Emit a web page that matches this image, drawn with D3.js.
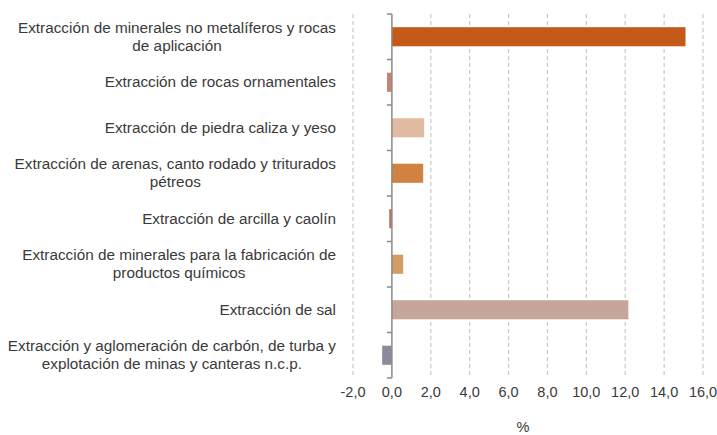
<!DOCTYPE html>
<html>
<head>
<meta charset="utf-8">
<script src="https://cdn.jsdelivr.net/npm/d3@7"></script>
<style>
  body { margin: 0; background: #fff; }
  text { font-family: "Liberation Sans", Arial, sans-serif; }
</style>
</head>
<body>
<div id="chart"></div>
<script>
// categories (top to bottom), each label split into lines
var categories = [
	["Extracción de minerales no metalíferos y rocas", "de aplicación"],
	["Extracción de rocas ornamentales"],
	["Extracción de piedra caliza y yeso"],
	["Extracción de arenas, canto rodado y triturados", "pétreos"],
	["Extracción de arcilla y caolín"],
	["Extracción de minerales para la fabricación de", "productos químicos"],
	["Extracción de sal"],
	["Extracción y aglomeración de carbón, de turba y", "explotación de minas y canteras n.c.p."]
];
var values = [15.1, -0.25, 1.66, 1.61, -0.14, 0.58, 12.16, -0.5];
var barColors = ["#c55a18", "#c48472", "#e1bca2", "#d08240", "#bf7464", "#d39c62", "#c6a69a", "#8d8a9b"];
var tickValues = [-2, 0, 2, 4, 6, 8, 10, 12, 14, 16];

var width = 717, height = 435;
var margin = {top: 14, right: 14, bottom: 57, left: 353};

var svg = d3.select("#chart")
	.append("svg")
		.attr("width", width)
		.attr("height", height);

var x = d3.scaleLinear()
	.domain([-2, 16])
	.range([margin.left, width - margin.right]);

var y = d3.scaleBand()
	.domain(d3.range(categories.length))
	.range([margin.top, height - margin.bottom])
	.paddingInner(0.58)
	.paddingOuter(0.29);

var plotTop = margin.top, plotBottom = height - margin.bottom;

// dashed vertical gridlines
svg.selectAll("line.grid")
	.data(tickValues.filter(function(d) { return d !== 0; }))
	.enter()
	.append("line")
		.attr("class", "grid")
		.attr("x1", function(d) { return x(d); })
		.attr("x2", function(d) { return x(d); })
		.attr("y1", plotTop)
		.attr("y2", plotBottom)
		.attr("stroke", "#c8c8c8")
		.attr("stroke-width", 1.2)
		.attr("stroke-dasharray", "4,3");

// bars
svg.selectAll("rect.bar")
	.data(values)
	.enter()
	.append("rect")
		.attr("x", function(d) { return x(Math.min(0, d)); })
		.attr("y", function(d, i) { return y(i); })
		.attr("width", function(d) { return Math.abs(x(d) - x(0)); })
		.attr("height", y.bandwidth())
		.attr("fill", function(d, i) { return barColors[i]; });

// zero axis with category ticks
var step = (plotBottom - plotTop) / categories.length;
svg.append("line")
	.attr("x1", x(0)).attr("x2", x(0))
	.attr("y1", plotTop).attr("y2", plotBottom)
	.attr("stroke", "#8a8a8a")
	.attr("stroke-width", 1.5);
svg.selectAll("line.ytick")
	.data(d3.range(categories.length + 1))
	.enter()
	.append("line")
		.attr("x1", x(0) - 5).attr("x2", x(0))
		.attr("y1", function(d) { return plotTop + d * step; })
		.attr("y2", function(d) { return plotTop + d * step; })
		.attr("stroke", "#8a8a8a")
		.attr("stroke-width", 1.5);

// category labels, right-aligned block with centred lines
var catLabels = svg.selectAll("text.cat")
	.data(categories)
	.enter()
	.append("text")
		.attr("class", "cat")
		.attr("text-anchor", "middle")
		.attr("font-size", 15.3)
		.attr("fill", "#3a3a3a");
catLabels.each(function(lines, i) {
	var t = d3.select(this);
	var cy = y(i) + y.bandwidth() / 2;
	var lh = 18;
	var y0 = cy - (lines.length - 1) * lh / 2 + 5;
	lines.forEach(function(line, j) {
		t.append("tspan")
			.attr("y", y0 + j * lh)
			.text(line);
	});
	var w = 0;
	t.selectAll("tspan").each(function() { w = Math.max(w, this.getComputedTextLength()); });
	t.selectAll("tspan").attr("x", 336 - w / 2);
});

// x tick labels
var fmt = function(d) { return d3.format(".1f")(d).replace(".", ",").replace("\u2212", "-"); };
svg.selectAll("text.xtick")
	.data(tickValues)
	.enter()
	.append("text")
		.attr("x", function(d) { return x(d); })
		.attr("y", 397)
		.attr("text-anchor", "middle")
		.attr("font-size", 14.5)
		.attr("fill", "#3a3a3a")
		.text(fmt);

svg.append("text")
	.attr("x", 523)
	.attr("y", 432)
	.attr("text-anchor", "middle")
	.attr("font-size", 14.5)
	.attr("fill", "#3a3a3a")
	.text("%");
</script>
</body>
</html>
